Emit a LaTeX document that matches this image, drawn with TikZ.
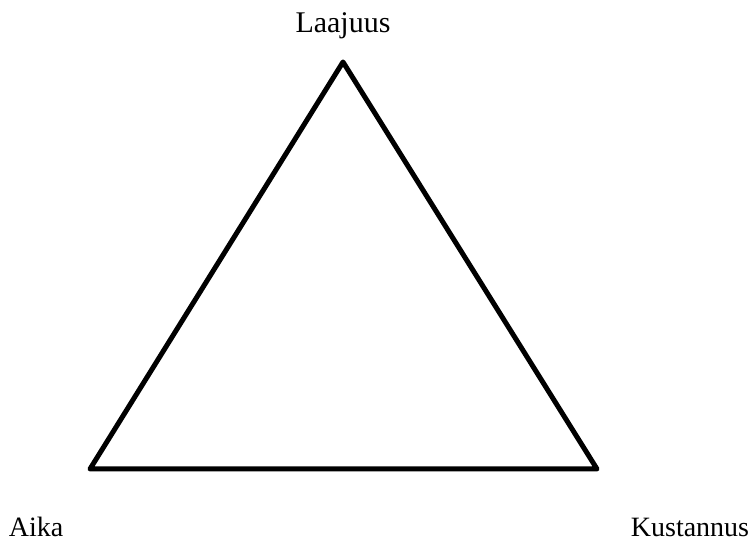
\documentclass[tikz,border=0pt]{standalone}
\usepackage{fontspec}
\setmainfont{Liberation Serif}
\begin{document}
\begin{tikzpicture}[x=1pt,y=1pt,
  lbl/.style={font=\fontsize{28}{32}\selectfont, inner sep=0pt, anchor=base},
  edge/.style={line width=5pt, line join=round}]
\useasboundingbox (0,0) rectangle (750,543);
\coordinate (top) at (343,481);
\coordinate (bl) at (90,74);
\coordinate (br) at (597,74);
\draw[edge] (top) -- (bl) -- (br) -- cycle;
\node[lbl,font=\fontsize{30}{34}\selectfont] (laajuus) at (343,510) {Laajuus};
\node[lbl] (aika) at (36,6) {Aika};
\node[lbl] (kust) at (690,6) {Kustannus};
\end{tikzpicture}
\end{document}
